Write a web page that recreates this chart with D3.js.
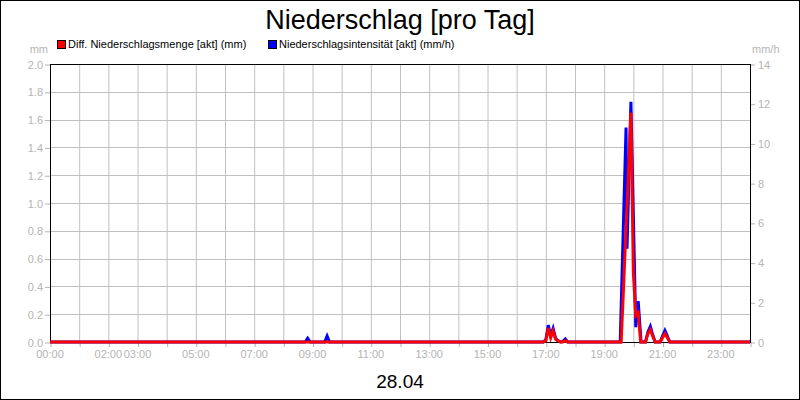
<!DOCTYPE html>
<html>
<head>
<meta charset="utf-8">
<script src="https://cdn.jsdelivr.net/npm/d3@7"></script>
<style>
  body { margin: 0; background: #fff; }
  svg { display: block; font-family: "Liberation Sans", Arial, sans-serif; }
</style>
</head>
<body>
<svg id="chart"></svg>
<script>
// x axis: hour ticks and the labels the original shows
const hourTicks = d3.range(0, 25)
const tickLabels = ['00:00', '02:00', '03:00', '05:00', '07:00', '09:00', '11:00',
  '13:00', '15:00', '17:00', '19:00', '21:00', '23:00']

// Diff. Niederschlagsmenge [akt] (mm)
const mengeTimes = ['00:00', '16:55', '17:00', '17:05', '17:10', '17:15', '17:20', '17:25', '17:30',
  '17:35', '17:40', '17:45', '19:35', '19:40', '19:45', '19:50', '19:55', '20:00', '20:05',
  '20:10', '20:15', '20:25', '20:30', '20:35', '20:40', '20:45', '20:55', '21:00', '21:05',
  '21:10', '21:15', '24:00']
const mengeValues = [0, 0, 0.01, 0.1, 0.03, 0.08, 0.02, 0.01, 0,
  0, 0.01, 0, 0, 0.4, 0.82, 1.22, 1.65, 0.5, 0.19,
  0.21, 0, 0, 0.06, 0.088, 0.04, 0, 0, 0.03, 0.06,
  0.03, 0, 0]

// Niederschlagsintensität [akt] (mm/h)
const intensTimes = ['00:00', '08:45', '08:50', '08:55', '09:25', '09:30', '09:35', '16:55', '17:00',
  '17:05', '17:10', '17:15', '17:20', '17:25', '17:30', '17:35', '17:40', '17:45', '19:33',
  '19:45', '19:47', '19:55', '20:05', '20:10', '20:16', '20:25', '20:30', '20:35', '20:40',
  '20:45', '20:55', '21:00', '21:05', '21:10', '21:15', '24:00']
const intensValues = [0, 0, 0.19, 0, 0, 0.3, 0, 0, 0.1,
  0.85, 0.32, 0.69, 0.2, 0.05, 0, 0.03, 0.15, 0, 0,
  10.8, 4.7, 12.1, 0.75, 2.06, 0, 0, 0.5, 0.78, 0.35,
  0, 0, 0.3, 0.58, 0.3, 0, 0]

const leftTicks = d3.range(0, 2.01, 0.2)
const rightTicks = d3.range(0, 15, 2)

const width = 800
const height = 400
const margin = { top: 64, right: 50, bottom: 58, left: 50 }
const gray = '#b4b4b4'
const grid = '#c0c0c0'

const toHours = (t) => {
  const [h, m] = t.split(':').map(Number)
  return h + m / 60
}

const svg = d3.select('#chart').attr('width', width).attr('height', height)

// outer frame
svg.append('rect')
  .attr('x', 0.5).attr('y', 0.5)
  .attr('width', width - 1).attr('height', height - 1)
  .attr('fill', '#fff').attr('stroke', '#000')

const x = d3.scaleLinear().domain([0, 24]).range([margin.left, width - margin.right])
const yL = d3.scaleLinear().domain([0, 2]).range([height - margin.bottom, margin.top])
const yR = d3.scaleLinear().domain([0, 14]).range([height - margin.bottom, margin.top])

// grid
svg.append('g')
  .selectAll('line.v')
  .data(hourTicks.slice(1, -1))
  .join('line')
  .attr('x1', (d) => x(d) + 0.5).attr('x2', (d) => x(d) + 0.5)
  .attr('y1', yL(2)).attr('y2', yL(0))
  .attr('stroke', grid)

svg.append('g')
  .selectAll('line.h')
  .data(leftTicks.slice(1, -1))
  .join('line')
  .attr('x1', x(0)).attr('x2', x(24))
  .attr('y1', (d) => Math.round(yL(d)) + 0.5).attr('y2', (d) => Math.round(yL(d)) + 0.5)
  .attr('stroke', grid)

// axes
const leftAxis = svg.append('g')
  .attr('transform', `translate(${x(0)},0.5)`)
  .call(d3.axisLeft(yL).tickValues(leftTicks).tickFormat(d3.format('.1f')).tickSize(5).tickPadding(2))
const rightAxis = svg.append('g')
  .attr('transform', `translate(${x(24)},0.5)`)
  .call(d3.axisRight(yR).tickValues(rightTicks).tickSize(5).tickPadding(3))
const bottomAxis = svg.append('g')
  .attr('transform', `translate(0.5,${yL(0)})`)
  .call(d3.axisBottom(x).tickValues(hourTicks).tickFormat(() => '').tickSize(5))

svg.append('g')
  .attr('transform', `translate(0,${yL(0)})`)
  .selectAll('text')
  .data(tickLabels)
  .join('text')
  .attr('x', (d) => x(toHours(d)))
  .attr('y', 16)
  .attr('text-anchor', 'middle')
  .attr('font-size', 11)
  .attr('fill', gray)
  .text((d) => d)

for (const ax of [leftAxis, rightAxis, bottomAxis]) {
  ax.select('.domain').remove()
  ax.selectAll('.tick line').attr('stroke', gray)
  ax.selectAll('.tick text').attr('fill', gray).attr('font-size', 11)
    .attr('font-family', '"Liberation Sans", Arial, sans-serif')
}

// plot frame
svg.append('rect')
  .attr('x', x(0) + 0.5).attr('y', yL(2) + 0.5)
  .attr('width', x(24) - x(0)).attr('height', yL(0) - yL(2))
  .attr('fill', 'none').attr('stroke', '#000')

// series
const intens = intensTimes.map((t, i) => ({ h: toHours(t), v: intensValues[i] }))
const menge = mengeTimes.map((t, i) => ({ h: toHours(t), v: mengeValues[i] }))

svg.append('path')
  .datum(intens)
  .attr('fill', 'none')
  .attr('stroke', '#0000ff')
  .attr('stroke-width', 3)
  .attr('stroke-linejoin', 'miter')
  .attr('d', d3.line().x((d) => x(d.h)).y((d) => yR(d.v)))

svg.append('path')
  .datum(menge)
  .attr('fill', 'none')
  .attr('stroke', '#ff0000')
  .attr('stroke-width', 3)
  .attr('d', d3.line().x((d) => x(d.h)).y((d) => yL(d.v)))

// unit labels
svg.append('text').attr('x', 48).attr('y', 53).attr('text-anchor', 'end')
  .attr('font-size', 11).attr('fill', gray).text('mm')
svg.append('text').attr('x', 752).attr('y', 53)
  .attr('font-size', 11).attr('fill', gray).text('mm/h')

// legend
const legend = [
  { label: 'Diff. Niederschlagsmenge [akt] (mm)', color: '#ff0000', x: 57 },
  { label: 'Niederschlagsintensität [akt] (mm/h)', color: '#0000ff', x: 268 }
]
const lg = svg.append('g').selectAll('g').data(legend).join('g')
  .attr('transform', (d) => `translate(${d.x},40)`)
lg.append('rect').attr('x', 0.5).attr('y', 0.5).attr('width', 8).attr('height', 8)
  .attr('fill', (d) => d.color).attr('stroke', '#000')
lg.append('text').attr('x', 11).attr('y', 8).attr('font-size', 11).attr('fill', '#000')
  .text((d) => d.label)

// titles
svg.append('text').attr('x', 400).attr('y', 29).attr('text-anchor', 'middle')
  .attr('font-size', 27).attr('fill', '#000').text('Niederschlag [pro Tag]')
svg.append('text').attr('x', 400).attr('y', 388).attr('text-anchor', 'middle')
  .attr('font-size', 19).attr('fill', '#000').text('28.04')
</script>
</body>
</html>
